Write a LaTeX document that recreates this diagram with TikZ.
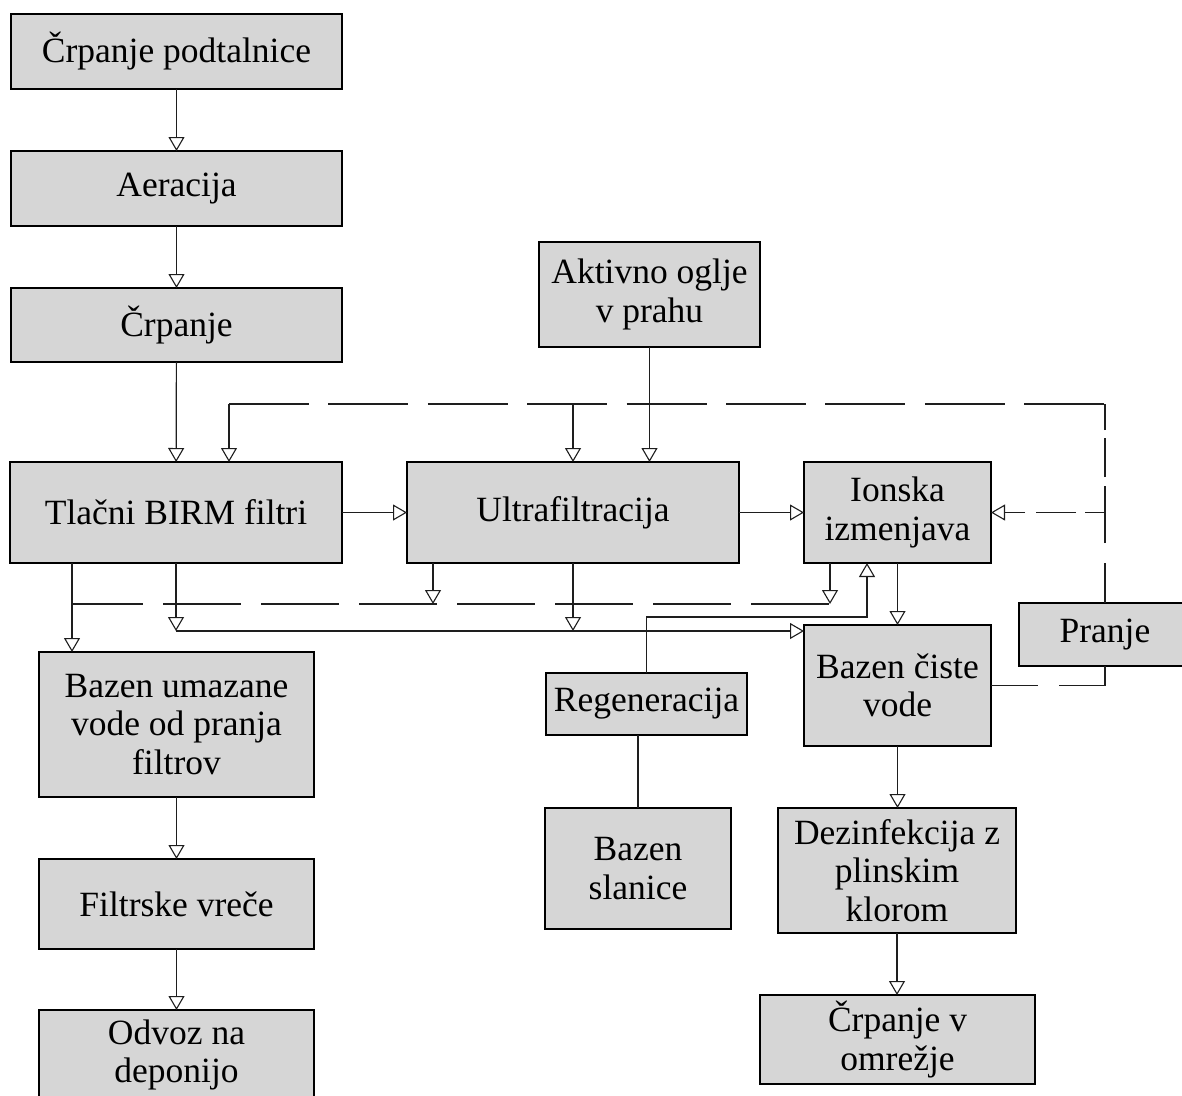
\documentclass[tikz,border=0pt]{standalone}
\usepackage{fontspec}
\setmainfont{Liberation Serif}
\usetikzlibrary{arrows.meta}
\definecolor{boxgray}{RGB}{214,214,214}
\definecolor{linegray}{RGB}{30,30,30}
\begin{document}
\begin{tikzpicture}[x=1pt,y=-1pt,
  box/.style={draw=black, line width=1.4pt, fill=boxgray, inner sep=0pt, outer sep=0pt,
    align=center, font=\fontsize{35.5pt}{38.5pt}\selectfont},
  conn/.style={draw=linegray, line width=1.2pt},
  arr/.style={conn, -{Triangle[length=14pt,width=16pt,fill=white,line width=1.1pt]}},
  dashline/.style={conn, dash pattern=on 80pt off 19.4pt}]
\useasboundingbox (0,0) rectangle (1182,1095);

% left column
\node[box, minimum width=331pt, minimum height=75pt] (cp) at (176.5,51.5) {Črpanje podtalnice};
\node[box, minimum width=331pt, minimum height=75pt] (ae) at (176.5,188.5) {Aeracija};
\node[box, minimum width=331pt, minimum height=74pt] (cr) at (176.5,325) {Črpanje};
\node[box, minimum width=332pt, minimum height=101pt] (tb) at (176,512.5) {Tlačni BIRM filtri};
\node[box, minimum width=275pt, minimum height=145pt] (bu) at (176.5,724.5) {Bazen umazane\\vode od pranja\\filtrov};
\node[box, minimum width=275pt, minimum height=90pt] (fv) at (176.5,904) {Filtrske vreče};
\node[box, minimum width=275pt, minimum height=90pt] (od) at (176.5,1055) {Odvoz na\\deponijo};

% middle
\node[box, minimum width=221pt, minimum height=105pt] (ao) at (649.5,294.5) {Aktivno oglje\\v prahu};
\node[box, minimum width=332pt, minimum height=101pt] (uf) at (573,512.5) {Ultrafiltracija};
\node[box, minimum width=201pt, minimum height=62pt] (rg) at (646.5,704) {Regeneracija};
\node[box, minimum width=186pt, minimum height=121pt] (bs) at (638,868.5) {Bazen\\slanice};

% right
\node[box, minimum width=187pt, minimum height=101pt] (io) at (897.5,512.5) {Ionska\\izmenjava};
\node[box, minimum width=187pt, minimum height=121pt] (bc) at (897.5,685.5) {Bazen čiste\\vode};
\node[box, minimum width=172pt, minimum height=63pt] (pr) at (1105,634.5) {Pranje};
\node[box, minimum width=238pt, minimum height=125pt] (dz) at (897,870.5) {Dezinfekcija z\\plinskim\\klorom};
\node[box, minimum width=275pt, minimum height=89pt] (co) at (897.5,1039.5) {Črpanje v\\omrežje};

% main chain
\draw[arr] (cp) -- (ae);
\draw[arr] (ae) -- (cr);
\draw[arr] (cr) -- (tb);
\draw[arr] (tb) -- (uf);
\draw[arr] (uf) -- (io);
\draw[arr] (io) -- (bc);
\draw[arr] (bc.south) -- (bc.south |- dz.north);
\draw[arr] (dz.south) -- (dz.south |- co.north);
\draw[arr] (bu) -- (fv);
\draw[arr] (fv) -- (od);
\draw[arr] (ao.south) -- (ao.south |- uf.north);

% wash water collector
\coordinate (x72) at (72,0);
\coordinate (w1) at (72,604);
\coordinate (w2) at (433,604);
\coordinate (w3) at (830,604);
\draw[arr] (x72 |- tb.south) -- (x72 |- bu.north);
\draw[arr] (w2 |- uf.south) -- (w2);
\draw[arr] (w3 |- io.south) -- (w3);
\draw[conn, dash pattern=on 78pt off 20pt, dash phase=7pt] (w1) -- (w3);

% filtered water to clean-water basin
\coordinate (v1) at (176,631);
\coordinate (v2) at (573,631);
\draw[arr] (tb.south) -- (v1);
\draw[arr] (uf.south) -- (v2);
\draw[arr] (v1) -- (v1 -| bc.west);

% regeneration
\coordinate (r1) at (867,617);
\draw[arr] (rg.north) |- (r1) -- (r1 |- io.south);
\draw[conn] (bs.north |- rg.south) -- (bs.north);

% washing loop
\coordinate (t1) at (229,404);
\coordinate (t2) at (573,404);
\coordinate (t3) at (1105,404);
\draw[conn, dash pattern=on 66pt off 21pt on 60pt] (pr.south) |- (bc.east);
\draw[dashline] (t1) -- (t3);
\draw[conn, dash pattern=on 40pt off 20pt on 57pt off 9pt on 39pt off 8pt on 40pt] (pr.north) -- (t3);
\draw[arr] (t1) -- (t1 |- tb.north);
\draw[arr] (t2) -- (uf.north);
\draw[arr, dash pattern=on 20pt off 9pt on 40pt off 11pt on 40pt] (pr.north |- io.east) -- (io.east);
\end{tikzpicture}
\end{document}
